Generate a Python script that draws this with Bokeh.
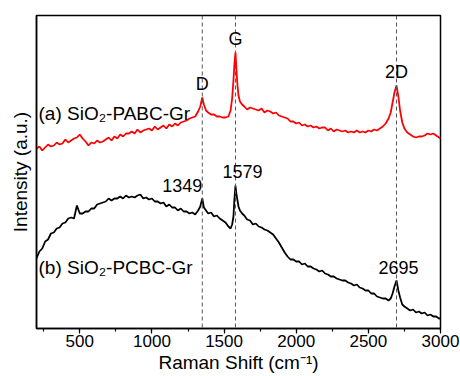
from bokeh.plotting import figure
from bokeh.models import Label, Span, SingleIntervalTicker, FixedTicker, Range1d, Title
from bokeh.embed import file_html
from bokeh.resources import INLINE

# Raman shift sample positions (cm^-1)
raman_shift = [
    200, 220, 240, 260, 280, 300, 320, 340, 360, 380, 400, 420, 440, 460, 480, 500, 520, 540, 560, 580,
    600, 620, 640, 660, 680, 700, 720, 740, 760, 780, 800, 820, 840, 860, 880, 900, 920, 940, 960, 980,
    1000, 1020, 1040, 1060, 1080, 1100, 1120, 1140, 1160, 1180, 1200, 1220, 1240, 1260, 1280, 1300, 1320,
    1335, 1349, 1360, 1375, 1390,
    1410, 1430, 1450, 1470, 1490, 1510, 1530,
    1545, 1556, 1565, 1572, 1579, 1586, 1593, 1600, 1610, 1625,
    1640, 1660, 1680, 1700, 1720, 1740, 1760, 1780, 1800, 1820,
    1840, 1860, 1880, 1900, 1920, 1940, 1960, 1980, 2000, 2020,
    2040, 2060, 2080, 2100, 2120, 2140, 2160, 2180, 2200, 2220,
    2240, 2260, 2280, 2300, 2320, 2340, 2360, 2380, 2400, 2420,
    2440, 2460, 2480, 2500, 2520, 2540, 2560, 2580, 2600, 2620, 2640,
    2655, 2668, 2681, 2695, 2708, 2720, 2735, 2750,
    2770, 2790, 2810, 2830, 2850, 2870, 2890, 2910, 2930, 2950, 2970, 2990, 3000,
]

# (a) SiO2-PABC-Gr intensity (a.u., offset)
intensity_a = [
    180, 182, 178, 181, 184, 182, 183, 186, 184, 185, 189, 186, 188, 190, 191, 194, 190, 187, 183, 186,
    185, 188, 186, 187, 189, 191, 188, 192, 190, 194, 192, 195, 195, 197, 195, 199, 196, 198, 199, 200,
    198, 202, 199, 201, 203, 200, 204, 202, 205, 203, 206, 207, 208, 210, 211, 212, 217,
    222, 231, 224, 218, 216,
    214, 214, 212, 212, 211, 211, 212,
    218, 230, 248, 265, 276, 258, 243, 233, 227, 224,
    222, 219, 221, 220, 219, 218, 220, 216, 218, 217,
    215, 216, 213, 212, 211, 210, 207, 207, 205, 206,
    203, 204, 202, 203, 201, 202, 200, 201, 201, 198,
    200, 197, 199, 198, 197, 198, 196, 197, 196, 198,
    196, 197, 196, 198, 197, 199, 198, 200, 202, 205, 210,
    216, 226, 236, 243, 232, 218, 206, 200,
    196, 194, 192, 191, 192, 192, 193, 195, 194, 195, 193, 191, 190,
]

# (b) SiO2-PCBC-Gr intensity (a.u., offset)
intensity_b = [
    70, 77, 80, 87, 89, 95, 96, 100, 101, 105, 106, 110, 111, 110, 123, 115, 115, 117, 117, 120,
    120, 124, 125, 126, 127, 130, 128, 130, 130, 132, 130, 133, 131, 132, 131, 133, 134, 130, 131, 129,
    130, 127, 127, 125, 126, 122, 124, 121, 121, 118, 120, 117, 117, 115, 116, 114, 118,
    122, 130, 121, 118, 115,
    116, 112, 113, 110, 108, 106, 102,
    100, 104, 112, 130, 143, 134, 128, 122, 118, 115,
    113, 109, 108, 104, 105, 102, 101, 99, 98, 96,
    94, 90, 86, 81, 76, 72, 69, 69, 67, 67,
    64, 65, 62, 62, 60, 59, 57, 58, 55, 54,
    52, 52, 50, 49, 48, 48, 46, 45, 43, 44,
    41, 40, 38, 38, 35, 35, 32, 31, 30, 30, 28,
    30, 35, 42, 48, 38, 31, 24, 22,
    20, 18, 19, 16, 17, 15, 16, 13, 14, 12, 12, 10, 10,
]

peak_shifts = [1349, 1579, 2695]
band_names = ["D", "G", "2D"]
peak_labels_b = ["1349", "1579", "2695"]
sample_labels = ["(a) SiO\u2082-PABC-Gr", "(b) SiO\u2082-PCBC-Gr"]
x_title = "Raman Shift (cm\u207b\u00b9)"
y_title = "Intensity (a.u.)"
x_ticks_interval = 500

FONT = "Liberation Sans"

p = figure(width=460, height=376, output_backend="svg", toolbar_location=None,
           x_range=Range1d(200, 3000), y_range=Range1d(0, 313),
           min_border_left=36, min_border_right=20, min_border_top=15, min_border_bottom=48)
p.background_fill_color = "white"
p.border_fill_color = "white"
p.grid.visible = False
p.outline_line_color = "black"
p.outline_line_width = 1.5

# x axis
p.xaxis.ticker = SingleIntervalTicker(interval=x_ticks_interval, num_minor_ticks=2)
p.xaxis.major_label_text_font = FONT
p.xaxis.major_label_text_font_size = "17px"
p.xaxis.major_label_text_color = "black"
p.xaxis.major_label_standoff = 1
p.xaxis.major_tick_out = 5
p.xaxis.major_tick_in = 0
p.xaxis.minor_tick_out = 3
p.xaxis.minor_tick_in = 0
p.xaxis.axis_line_width = 1.5
p.xaxis.major_tick_line_width = 1.2
p.xaxis.minor_tick_line_width = 1.2

# x-axis title as a bottom title panel
p.add_layout(Title(text=x_title, align="center", text_font=FONT, text_font_size="19px",
                   text_font_style="normal", text_color="black", standoff=0, offset=0), "below")

# y axis
p.yaxis.ticker = FixedTicker(ticks=[])
p.yaxis.axis_label = y_title
p.yaxis.axis_label_text_font = FONT
p.yaxis.axis_label_text_font_size = "19px"
p.yaxis.axis_label_text_font_style = "normal"
p.yaxis.axis_label_text_color = "black"
p.yaxis.axis_label_standoff = 6
p.yaxis.axis_line_width = 1.5
p.yaxis.major_tick_line_color = None
p.yaxis.minor_tick_line_color = None

# dashed peak markers
for s in peak_shifts:
    p.add_layout(Span(location=s, dimension="height", line_color="#555555",
                      line_dash="4 3", line_width=1))

p.line(raman_shift, intensity_a, line_color="#ff0000", line_width=1.8)
p.line(raman_shift, intensity_b, line_color="#000000", line_width=1.8)

def at(xs, ys, xv):
    return ys[xs.index(xv)]

# band names above (a) peaks
for s, name in zip(peak_shifts, band_names):
    p.add_layout(Label(x=s, y=at(raman_shift, intensity_a, s), text=name, text_font=FONT,
                       text_font_size="18px", text_align="center", text_baseline="middle",
                       y_offset=14, text_color="black"))

# peak positions above (b) peaks
offsets_b = [(0, 13), (7, 14), (2, 13)]
aligns_b = ["right", "center", "center"]
for s, txt, (dx, dy), al in zip(peak_shifts, peak_labels_b, offsets_b, aligns_b):
    p.add_layout(Label(x=s, y=at(raman_shift, intensity_b, s), text=txt, text_font=FONT,
                       text_font_size="18px", text_align=al, text_baseline="middle",
                       x_offset=dx, y_offset=dy, text_color="black"))

# sample labels
p.add_layout(Label(x=214, y=215, text=sample_labels[0], text_font=FONT, text_font_size="19px",
                   text_align="left", text_baseline="middle", text_color="black"))
p.add_layout(Label(x=214, y=61, text=sample_labels[1], text_font=FONT, text_font_size="19px",
                   text_align="left", text_baseline="middle", text_color="black"))

open("out.html", "w").write(file_html(p, INLINE))
